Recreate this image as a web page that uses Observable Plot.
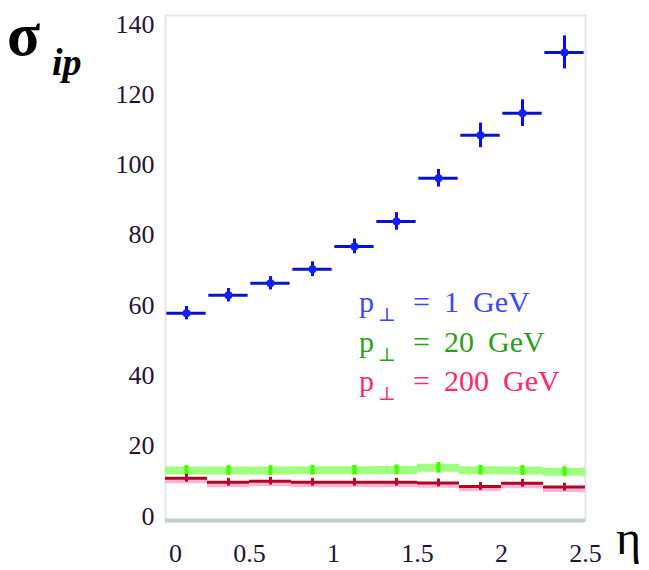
<!DOCTYPE html>
<html><head><meta charset="utf-8">
<script src="https://cdn.jsdelivr.net/npm/d3@7"></script>
<script src="https://cdn.jsdelivr.net/npm/@observablehq/plot@0.6"></script>
<style>
html,body{margin:0;padding:0;background:#fff;}
svg{display:block;}
</style></head>
<body><div id="chart"></div>
<script>
const etaCenters = [0.125, 0.375, 0.625, 0.875, 1.125, 1.375, 1.625, 1.875, 2.125, 2.375];
const binHalfWidth = 0.125;
const sigma1 = [57.8, 62.9, 66.3, 70.3, 76.8, 83.9, 96.2, 108.4, 114.7, 132.0];
const err1 = [1.0, 1.0, 1.0, 1.2, 1.2, 1.6, 1.6, 2.6, 2.9, 3.8];
const sigma20 = [13.0, 13.0, 13.0, 13.1, 13.1, 13.2, 13.8, 13.1, 13.0, 12.7];
const err20 = [1.4, 1.4, 1.4, 1.4, 1.4, 1.4, 1.5, 1.4, 1.4, 1.4];
const sigma200 = [10.8, 9.7, 10.0, 9.7, 9.7, 9.7, 9.5, 8.5, 9.4, 8.3];
const err200 = [1.1, 1.1, 1.1, 1.1, 1.1, 1.1, 1.1, 1.1, 1.1, 1.1];
const xTicks = [0, 0.5, 1, 1.5, 2, 2.5];
const yTicks = [0, 20, 40, 60, 80, 100, 120, 140];
const legendNumbers = ["1", "20", "200"];

const mk = (vals, errs) => etaCenters.map((e, i) => ({eta: e, lo: e - binHalfWidth, hi: e + binHalfWidth, v: vals[i], err: errs[i]}));
const d1 = mk(sigma1, err1), d20 = mk(sigma20, err20), d200 = mk(sigma200, err200);

const font = "'Liberation Serif', 'DejaVu Serif', serif";
const tickStyle = {tickSize: 0, fontSize: 26, fill: "#241238", label: null};
const plot = Plot.plot({
  width: 649, height: 570,
  marginLeft: 165, marginRight: 64, marginTop: 15, marginBottom: 50,
  style: {fontFamily: font, background: "#fff"},
  x: {domain: [0, 2.5]},
  y: {domain: [-1.2, 142.5]},
  marks: [
    Plot.frame({stroke: "#dfe7e7", strokeWidth: 2}),
    Plot.ruleY([-1.2], {stroke: "#c2cccc", strokeWidth: 4}),
    // 20 GeV
    Plot.ruleY(d20, {x1: "lo", x2: "hi", y: "v", stroke: "#a0ff80", strokeWidth: 8}),
    Plot.ruleX(d20, {x: "eta", y1: d => d.v - d.err, y2: d => d.v + d.err, stroke: "#44ff00", strokeWidth: 4}),
    // 200 GeV
    Plot.ruleY(d200, {x1: "lo", x2: "hi", y: d => d.v - 0.7, stroke: "#ffb4d4", strokeWidth: 5}),
    Plot.ruleY(d200, {x1: "lo", x2: "hi", y: "v", stroke: "#b00628", strokeWidth: 3}),
    Plot.ruleX(d200, {x: "eta", y1: d => d.v - d.err, y2: d => d.v + d.err, stroke: "#c00030", strokeWidth: 3}),
    // 1 GeV
    Plot.ruleY(d1, {x1: d => d.lo + 0.008, x2: d => d.hi - 0.008, y: "v", stroke: "#0a10d0", strokeWidth: 3}),
    Plot.ruleX(d1, {x: "eta", y1: d => d.v - d.err - 0.9, y2: d => d.v + d.err + 0.9, stroke: "#0a0aff", strokeWidth: 3}),
    Plot.dot(d1, {x: "eta", y: "v", r: 4, fill: "#1020ff"}),
    Plot.axisY(yTicks, {...tickStyle, tickPadding: 11}),
    Plot.axisX(xTicks.filter(t => t !== 0), {...tickStyle, tickPadding: 23, tickFormat: d => String(d)}),
    Plot.axisX([0], {...tickStyle, tickPadding: 23, dx: 10, tickFormat: d => String(d)})
  ]
});
document.getElementById("chart").appendChild(plot);
const svg = d3.select(plot);
const add = (x, y, size, txt, opts = {}) => svg.append("text").attr("x", x).attr("y", y)
  .attr("font-family", font).attr("font-size", size).attr("text-anchor", "start")
  .attr("font-weight", opts.weight || "normal").attr("font-style", opts.style || "normal")
  .attr("fill", opts.fill || "#000").text(txt);
add(7, 55, 61, "σ", {weight: "bold"});
add(52, 75, 38, "ip", {style: "italic", weight: "bold"});
add(616, 554, 48, "η");
const legColors = ["#3a46ff", "#2e9e1a", "#ff2a6a"];
const legY = [312, 352, 391];
legendNumbers.forEach((num, i) => {
  const c = {fill: legColors[i]};
  add(359, legY[i], 30, "p", c);
  add(378, legY[i] + 9, 19, "⊥", c);
  add(413, legY[i], 30, "=", c);
  const t = add(444, legY[i], 30, num, c);
  t.append("tspan").attr("dx", 14).text("GeV");
});
</script>
</body></html>
